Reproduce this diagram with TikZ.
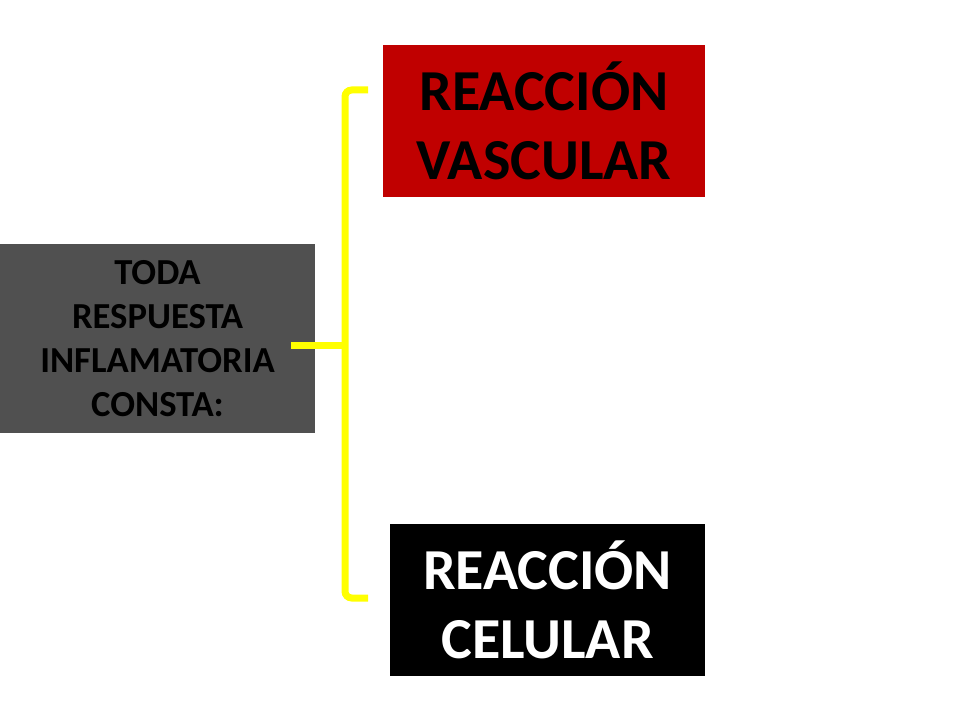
\documentclass[tikz,border=0pt]{standalone}
\usepackage{fontspec}
\setmainfont{Carlito}
\usetikzlibrary{positioning}
\definecolor{grisoscuro}{HTML}{505050}
\definecolor{rojovivo}{HTML}{C00000}
\definecolor{amarillo}{HTML}{FFFF00}
\tikzstyle{titulo} = [rectangle, minimum width=236.25pt, minimum height=141.75pt, text centered, align=center, fill=grisoscuro, text=black, font=\fontsize{27.5}{33}\selectfont\bfseries]
\tikzstyle{reaccion} = [rectangle, minimum height=114pt, text centered, align=center, font=\fontsize{43.5}{52}\selectfont\bfseries]
\tikzstyle{llave} = [line width=5.25pt, draw=amarillo, rounded corners=5pt]

\begin{document}
\begin{tikzpicture}[x=0.75pt, y=-0.75pt]
  \useasboundingbox (0,0) rectangle (960,720);
  \node (respuesta) [titulo] at (157.5,338.5) {TODA\\RESPUESTA\\INFLAMATORIA\\CONSTA:};
  \node (vascular) [reaccion, minimum width=241.5pt, fill=rojovivo, text=black] at (544,121) {REACCIÓN\\VASCULAR};
  \node (celular) [reaccion, minimum width=236.25pt, fill=black, text=white] at (547.5,600) {REACCIÓN\\CELULAR};

  \coordinate (llave_arriba) at (368,90);
  \coordinate (llave_abajo) at (368,598);
  \coordinate (llave_centro) at (345,345);
  \coordinate (llave_inicio) at (291,345);

  \draw[llave] (llave_arriba) -- (345,90) -- (345,598) -- (llave_abajo);
  \draw[llave, rounded corners=0pt] (llave_inicio) -- (llave_centro);
\end{tikzpicture}
\end{document}
